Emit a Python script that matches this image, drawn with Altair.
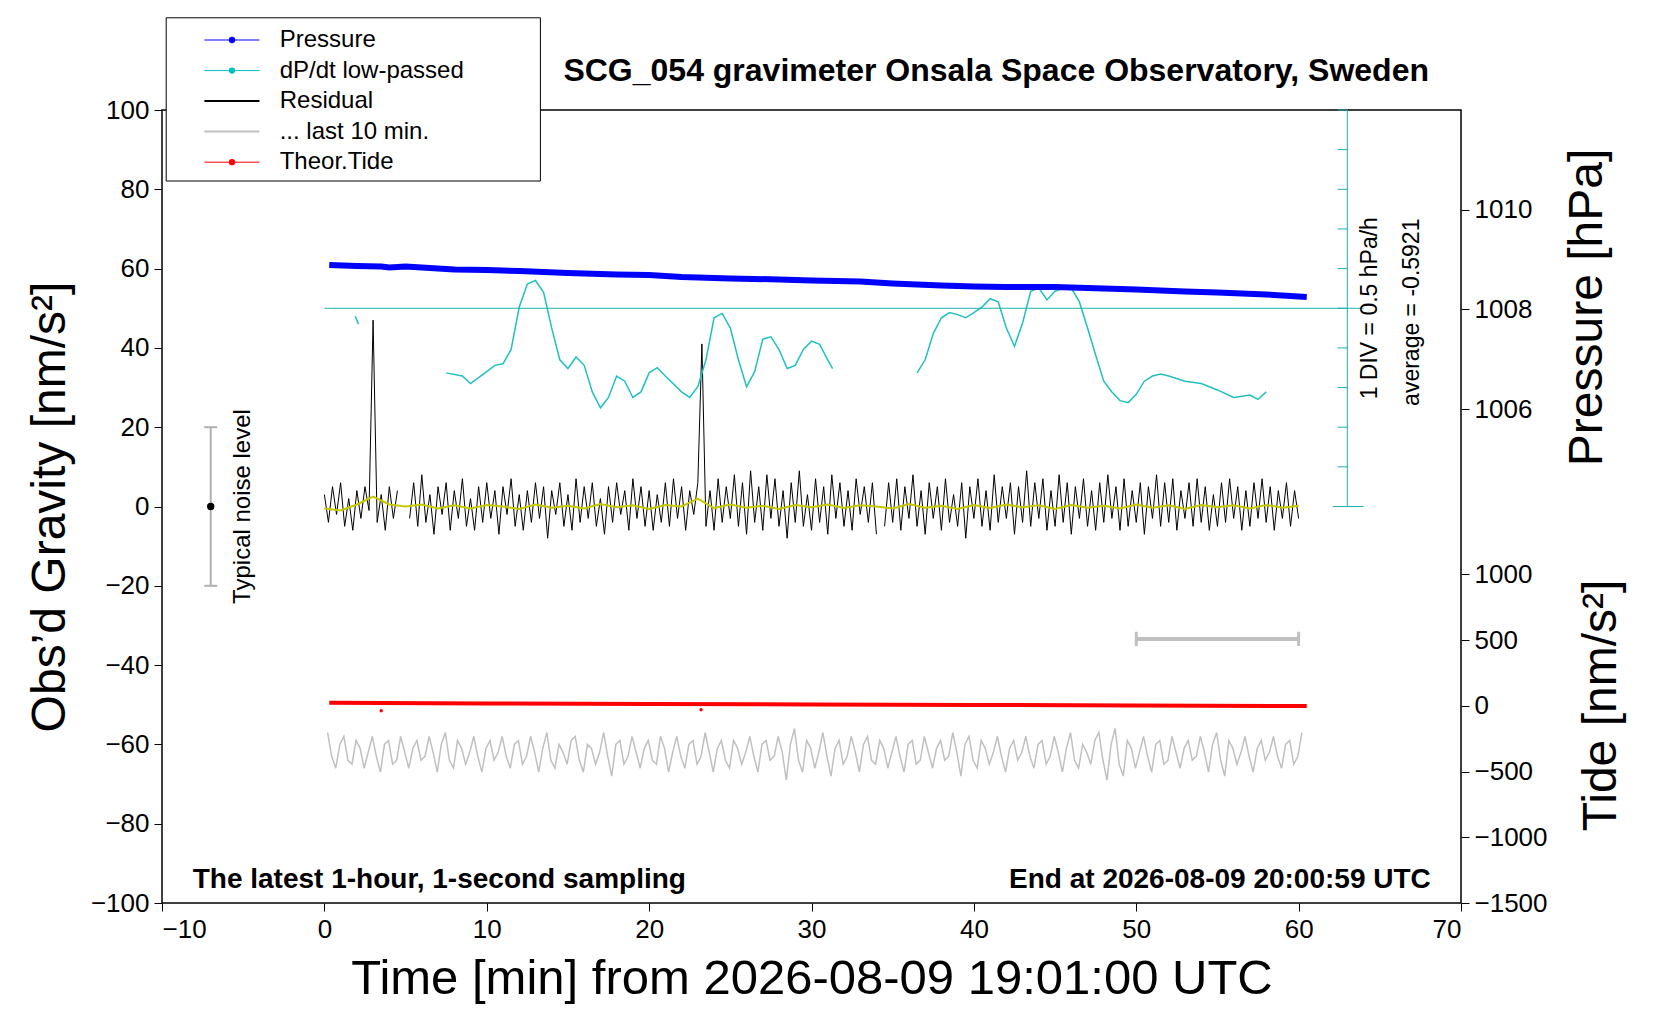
import altair as alt
import numpy as np
import pandas as pd

FONT = "Liberation Sans"
STEP = 0.25
S = 1.06  # reference was measured on a slightly reduced copy

# --- data (gravity units nm/s^2 unless noted) ---
residual = [
    3, -4, 5, -2, 6, -5, 2, -6, 4, -3, 5, -1, 47, -4, 3, -6, 5, -3, 4, None,
    None, -3, 6, -5, 8, -4, 3, -7, 5, -2, 6, -6, 4, -3, 7, -5, 2, -6, 5, -4,
    6, -3, 4, -7, 5, -2, 7, -5, 3, -6, 4, -4, 6, -3, 5, -8, 4, -2, 6, -5,
    3, -6, 7, -4, 5, -3, 6, -5, 2, -7, 5, -4, 6, -2, 4, -6, 7, -3, 5, -5,
    4, -6, 3, -4, 6, -5, 7, -3, 5, -6, 4, -2, 6, 41, -5, 4, -6, 7, -4, 5,
    -3, 8, -5, 6, -7, 9, -4, 5, -6, 8, -3, 7, -5, 4, -8, 6, -4, 9, -5, 3,
    -6, 7, -4, 5, -7, 8, -3, 6, -5, 4, -6, 7, -2, 5, -4, 6, -7, None, -5, 6,
    -4, 7, -6, 5, -3, 8, -5, 4, -7, 6, -3, 5, -6, 7, -4, 3, -5, 6, -8, 5,
    -3, 7, -5, 4, -6, 8, -4, 5, -3, 6, -7, 5, -4, 9, -5, 6, -3, 7, -6, 4,
    -5, 8, -4, 6, -7, 5, -3, 7, -5, 4, -6, 6, -4, 8, -3, 5, -6, 7, -5, 4,
    -4, 6, -7, 5, -3, 8, -5, 6, -4, 7, -6, 4, -3, 6, -5, 7, -4, 5, -6, 3,
    -5, 6, -4, 7, -3, 5, -6, 4, -5, 6, -3, 7, -4, 5, -6, 4, -3, 6, -5, 4,
    -3,
]

smooth_t = list(range(0, 61))
smooth = [
    -0.5, -1, 0.5, 2.5, 0.5, 0, 0.5, -0.5, 0.3, -0.5, 0.4, 0, -0.6, 0.5, -0.3,
    0.2, -0.5, 0.6, -0.2, 0.3, -0.6, 0.4, 0, 2, -0.4, 0.5, -0.3, 0.2, -0.6,
    0.4, -0.2, 0.5, -0.4, 0.3, 0, -0.5, 0.6, -0.3, 0.2, -0.6, 0.4, -0.4, 0.5,
    -0.2, 0.3, -0.6, 0.4, -0.3, 0.2, -0.5, 0.5, -0.3, 0.3, -0.6, 0.4, -0.2,
    0.3, -0.5, 0.4, -0.3, 0.2,
]

last10 = [
    -57, -63, -66, -60, -58, -64, -65, -59, -61, -66, -62, -58, -63, -67, -60,
    -59, -65, -64, -58, -62, -66, -61, -59, -64, -63, -58, -62, -67, -60, -57,
    -64, -66, -59, -61, -65, -62, -58, -63, -67, -61, -59, -64, -62, -58, -63,
    -66, -60, -59, -65, -63, -58, -62, -67, -61, -57, -64, -66, -60, -62, -65,
    -59, -58, -64, -67, -60, -61, -65, -62, -57, -63, -68, -60, -59, -65, -63,
    -58, -62, -66, -61, -59, -64, -65, -58, -61, -67, -62, -58, -63, -66, -60,
    -59, -65, -63, -57, -62, -67, -61, -59, -64, -66, -59, -61, -65, -62, -58,
    -63, -67, -60, -59, -64, -63, -58, -62, -69, -60, -56, -64, -67, -59, -61,
    -66, -62, -57, -63, -68, -61, -59, -65, -63, -58, -62, -67, -60, -58, -64,
    -65, -59, -61, -66, -62, -58, -63, -67, -60, -59, -65, -64, -58, -62, -66,
    -61, -59, -64, -63, -57, -62, -68, -60, -58, -64, -66, -59, -61, -65, -62,
    -58, -63, -67, -61, -59, -64, -62, -58, -63, -66, -60, -59, -65, -63, -58,
    -62, -67, -61, -57, -64, -66, -60, -62, -65, -59, -57, -64, -69, -60, -56,
    -65, -68, -59, -61, -66, -62, -58, -63, -67, -60, -59, -65, -64, -58, -62,
    -66, -61, -59, -64, -63, -58, -62, -67, -60, -57, -64, -68, -59, -61, -65,
    -62, -58, -63, -67, -61, -59, -64, -62, -58, -63, -66, -60, -59, -65, -63,
    -57,
]

cyan_t = [1.9, 2.1]
cyan_g = [48, 46]
cyan2_t = [7.5, 8.5, 9, 10, 10.5, 11, 11.5, 12, 12.5, 13, 13.5, 14, 14.5, 15,
           15.5, 16, 16.5, 17, 17.5, 18, 18.5, 19, 19.5, 20, 20.5, 21, 22, 22.5,
           23, 23.5, 24, 24.5, 25, 25.5, 26, 26.5, 27, 27.5, 28, 28.5, 29, 29.5,
           30, 30.5, 31, 31.3]
cyan2_g = [33.7, 32.9, 31, 34, 35.6, 36, 39.6, 50.3, 56.1, 57, 54, 45, 37, 34.8,
           37.7, 35.6, 28.9, 24.9, 27.5, 32.9, 31.6, 27.5, 28.9, 33.7, 35, 32.9,
           28.9, 27.5, 30.2, 37, 47.6, 48.7, 45, 37, 30.2, 34, 42.2, 42.8, 39.6,
           34.8, 35.6, 39.6, 41.7, 40.9, 37, 34.8]
cyan3_t = [36.5, 37, 37.5, 38, 38.5, 39, 39.5, 40, 40.5, 41, 41.5, 42, 42.5, 43,
           43.5, 44, 44.5, 45, 45.5, 46, 46.5, 47, 47.5, 48, 48.5, 49, 49.5, 50,
           50.5, 51, 51.5, 52, 53, 54, 55, 56, 57, 57.5, 58]
cyan3_g = [33.7, 37, 43.6, 47.6, 48.9, 48.4, 47.6, 48.9, 50.3, 52.4, 51.6, 45,
           40.4, 46.3, 54.3, 55.1, 52.1, 54.3, 55.1, 55.1, 51.6, 45, 38.2, 31.6,
           28.9, 26.7, 26.2, 28.3, 31.6, 32.9, 33.4, 32.9, 31.6, 31, 29.4, 27.5,
           28.1, 27, 28.9]

pres_t = [0.3, 2, 3.5, 4, 5, 8, 10, 12, 15, 18, 20, 22, 25, 28, 30, 33, 35, 38,
          40, 42, 45, 48, 50, 53, 55, 58, 60.5]
pres_hpa = [1008.89, 1008.87, 1008.86, 1008.84, 1008.86, 1008.80, 1008.79,
            1008.77, 1008.73, 1008.70, 1008.69, 1008.65, 1008.62, 1008.60,
            1008.58, 1008.56, 1008.52, 1008.48, 1008.46, 1008.45, 1008.45,
            1008.42, 1008.40, 1008.36, 1008.34, 1008.30, 1008.25]

tide_t = [0.3, 10, 20, 30, 40, 50, 60.5]
tide_v = [23, 18, 14, 10, 6, 3, -2]
tide_spike_t = [3.5, 23.2]
tide_spike_v = [-37, -30]

cyan_ticks = [0, 10, 20, 30, 40, 50, 60, 70, 80, 90, 100]

legend_labels = ["Pressure", "dP/dt low-passed", "Residual", "... last 10 min.", "Theor.Tide"]
legend_colors = ["#0000ff", "#00c0c0", "#000000", "#c0c0c0", "#ff0000"]
legend_dots = [True, True, False, False, True]


def segments(values, start=0.0):
    rows, seg = [], 0
    for i, v in enumerate(values):
        if v is None:
            seg += 1
            continue
        rows.append({"t": start + i * STEP, "g": v, "seg": seg})
    return pd.DataFrame(rows)


def px(v):
    return alt.value(round(v * S, 1))


AX = dict(titleFontWeight="normal", labelFontSize=26, tickSize=8, grid=False, domain=False,
          labelColor="black", tickColor="black", format="d", labelPadding=5)

X = alt.X("t:Q", scale=alt.Scale(domain=[-10, 70], nice=False),
          axis=alt.Axis(values=list(range(-10, 71, 10)), title="Time [min] from 2026-08-09 19:01:00 UTC",
                        titleFontSize=49, titlePadding=12, **AX))
YG = alt.Y("g:Q", scale=alt.Scale(domain=[-100, 100], nice=False),
           axis=alt.Axis(values=list(range(-100, 101, 20)), title="Obs\u2019d Gravity [nm/s\u00b2]",
                         titleFontSize=48, titlePadding=16, **AX))

res_df = segments(residual)
grey_df = segments(last10, 0.2)
smooth_df = pd.DataFrame({"t": smooth_t, "g": smooth})
cyan_df = pd.concat([
    pd.DataFrame({"t": cyan_t, "g": cyan_g, "seg": 0}),
    pd.DataFrame({"t": cyan2_t, "g": cyan2_g, "seg": 1}),
    pd.DataFrame({"t": cyan3_t, "g": cyan3_g, "seg": 2}),
])

grey_line = alt.Chart(grey_df).mark_line(color="#c0c0c0", strokeWidth=1.5).encode(x=X, y=YG, detail="seg:N")
res_line = alt.Chart(res_df).mark_line(color="black", strokeWidth=1).encode(x=X, y=YG, detail="seg:N")
smooth_line = alt.Chart(smooth_df).mark_line(color="#c8c800", strokeWidth=2).encode(x=X, y=YG)
cyan_line = alt.Chart(cyan_df).mark_line(color="#20c0c0", strokeWidth=1.5).encode(x=X, y=YG, detail="seg:N")

one = pd.DataFrame({"a": [0]})
cyan_c = "#20b0b0"
cyan_h = alt.Chart(pd.DataFrame({"t": [0], "t2": [64], "g": [50]})).mark_rule(color=cyan_c).encode(
    x=X, x2="t2:Q", y=YG)
cyan_v = alt.Chart(pd.DataFrame({"t": [63], "g": [0], "g2": [100]})).mark_rule(color=cyan_c).encode(
    x=X, y=YG, y2="g2:Q")
cyan_tk = alt.Chart(pd.DataFrame({"t": [62.4] * len(cyan_ticks), "t2": [63] * len(cyan_ticks),
                                  "g": cyan_ticks})).mark_rule(color=cyan_c).encode(x=X, x2="t2:Q", y=YG)
cyan_base = alt.Chart(pd.DataFrame({"t": [62.1], "t2": [64], "g": [0]})).mark_rule(color=cyan_c).encode(
    x=X, x2="t2:Q", y=YG)
div_txt = alt.Chart(pd.DataFrame({"t": [64.4], "g": [50], "s": ["1 DIV = 0.5 hPa/h"]})).mark_text(
    angle=270, font=FONT, fontSize=23, baseline="middle").encode(x=X, y=YG, text="s:N")
avg_txt = alt.Chart(pd.DataFrame({"t": [67.0], "g": [49], "s": ["average = -0.5921"]})).mark_text(
    angle=270, font=FONT, fontSize=23, baseline="middle").encode(x=X, y=YG, text="s:N")

bar10 = alt.Chart(pd.DataFrame({"t": [50], "t2": [60], "g": [-33.4]})).mark_rule(color="#c0c0c0", strokeWidth=4).encode(
    x=X, x2="t2:Q", y=YG)
bar10_caps = alt.Chart(pd.DataFrame({"t": [50, 60], "g": [-31.6, -31.6], "g2": [-35.2, -35.2]})).mark_rule(
    color="#c0c0c0", strokeWidth=3).encode(x=X, y=YG, y2="g2:Q")

noise_bar = alt.Chart(pd.DataFrame({"t": [-7], "g": [-20], "g2": [20]})).mark_rule(color="#b0b0b0", strokeWidth=2).encode(
    x=X, y=YG, y2="g2:Q")
noise_caps = alt.Chart(pd.DataFrame({"t": [-7.4, -7.4], "t2": [-6.6, -6.6], "g": [-20, 20]})).mark_rule(
    color="#b0b0b0", strokeWidth=2).encode(x=X, x2="t2:Q", y=YG)
noise_dot = alt.Chart(pd.DataFrame({"t": [-7], "g": [0]})).mark_circle(color="black", size=55, opacity=1).encode(x=X, y=YG)
noise_txt = alt.Chart(pd.DataFrame({"t": [-5.0], "g": [0], "s": ["Typical noise level"]})).mark_text(
    angle=270, font=FONT, fontSize=24, baseline="middle").encode(x=X, y=YG, text="s:N")

title_txt = alt.Chart(one).mark_text(font=FONT, fontSize=32, fontWeight="bold", align="center").encode(
    x=px(787), y=px(-37), text=alt.value("SCG_054 gravimeter Onsala Space Observatory, Sweden"))
left_txt = alt.Chart(one).mark_text(font=FONT, fontSize=28, fontWeight="bold", align="left").encode(
    x=px(29), y=px(726), text=alt.value("The latest 1-hour, 1-second sampling"))
right_txt = alt.Chart(one).mark_text(font=FONT, fontSize=28, fontWeight="bold", align="right").encode(
    x=px(1197), y=px(726), text=alt.value("End at 2026-08-09 20:00:59 UTC"))

legend_parts = [alt.Chart(one).mark_rect(fill="white", stroke="black", strokeWidth=1).encode(
    x=px(4), x2=px(357), y=px(-87), y2=px(67))]
for i, (lab, col, dot) in enumerate(zip(legend_labels, legend_colors, legend_dots)):
    yy = -66 + i * 28.8
    legend_parts.append(alt.Chart(one).mark_rule(color=col, strokeWidth=1 if dot else 2).encode(
        x=px(40), x2=px(92), y=px(yy)))
    if dot:
        legend_parts.append(alt.Chart(one).mark_circle(color=col, size=40, opacity=1).encode(
            x=px(66), y=px(yy)))
    legend_parts.append(alt.Chart(one).mark_text(font=FONT, fontSize=24, align="left", baseline="middle").encode(
        x=px(111), y=px(yy), text=alt.value(lab)))

grav_layer = alt.layer(
    grey_line, res_line, smooth_line, cyan_line, cyan_h, cyan_v, cyan_tk, cyan_base, div_txt, avg_txt,
    bar10, bar10_caps, noise_bar, noise_caps, noise_dot, noise_txt, title_txt, left_txt, right_txt,
    *legend_parts,
)

pres_layer = alt.Chart(pd.DataFrame({"t": pres_t, "p": pres_hpa})).mark_line(
    color="#0000ff", strokeWidth=6).encode(
    x=X,
    y=alt.Y("p:Q", scale=alt.Scale(domain=[996.09, 1012], nice=False),
            axis=alt.Axis(orient="right", values=[1006, 1008, 1010], title="Pressure [hPa]",
                          titleFontSize=48, titleAngle=270, titleY=round(186 * S),
                          titlePadding=80, **AX)),
)

tide_axis = alt.Axis(orient="right", values=[-1500, -1000, -500, 0, 500, 1000], title="Tide [nm/s\u00b2]",
                     titleFontSize=48, titleAngle=270, titleY=round(561 * S), titlePadding=78, **AX)
TS = alt.Scale(domain=[-1500, 4532], nice=False)
tide_layer = alt.layer(
    alt.Chart(pd.DataFrame({"t": tide_t, "v": tide_v})).mark_line(color="#ff0000", strokeWidth=4).encode(
        x=X, y=alt.Y("v:Q", scale=TS, axis=tide_axis)),
    alt.Chart(pd.DataFrame({"t": tide_spike_t, "v": tide_spike_v})).mark_circle(color="#ff0000", size=12, opacity=1).encode(
        x=X, y=alt.Y("v:Q", scale=TS, axis=tide_axis)),
)

chart = alt.layer(grav_layer, pres_layer, tide_layer).resolve_scale(y="independent").properties(
    width=1299, height=793,
    autosize=alt.AutoSizeParams(type="none"),
    padding={"left": 154, "top": 102, "right": 191, "bottom": 109},
    background="white",
).configure_view(stroke="black", strokeWidth=1.5).configure_axis(labelFont=FONT, titleFont=FONT)

chart.save("out.html", embed_options={"renderer": "svg", "actions": False})
